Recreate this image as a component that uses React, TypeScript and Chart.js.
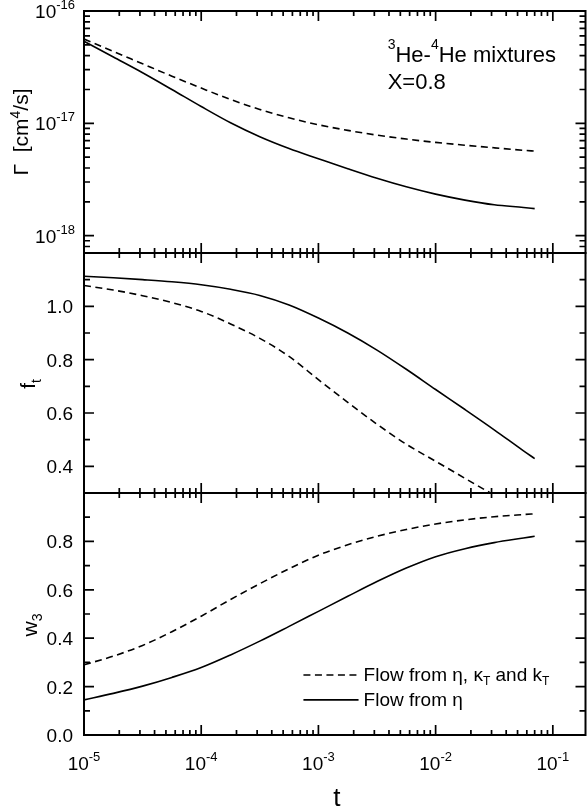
import React, { useEffect, useRef } from "react";
import { Chart, registerables } from "chart.js";

Chart.register(...registerables);

const FONT = '"Liberation Sans", Arial, Helvetica, sans-serif';

// reduced temperature t (shared x values, quarter-decade steps)
const T_VALUES = [
  1e-5, 1.78e-5, 3.16e-5, 5.62e-5, 1e-4, 1.78e-4, 3.16e-4, 5.62e-4, 1e-3, 1.78e-3, 3.16e-3, 5.62e-3, 1e-2, 1.78e-2,
  3.16e-2, 5.62e-2, 7e-2,
];

// Gamma [cm^4/s]
const GAMMA_ALL = [
  5.62e-17, 4.37e-17, 3.39e-17, 2.63e-17, 2.06e-17, 1.63e-17, 1.33e-17, 1.12e-17, 9.7e-18, 8.65e-18, 7.85e-18, 7.24e-18,
  6.76e-18, 6.38e-18, 6.05e-18, 5.75e-18, 5.65e-18,
];
const GAMMA_ETA = [
  5.37e-17, 3.89e-17, 2.82e-17, 2.0e-17, 1.41e-17, 1.01e-17, 7.59e-18, 5.96e-18, 4.84e-18, 3.94e-18, 3.24e-18, 2.72e-18,
  2.34e-18, 2.07e-18, 1.88e-18, 1.78e-18, 1.74e-18,
];
// f_t
const FT_ALL = [1.078, 1.061, 1.04, 1.014, 0.981, 0.934, 0.88, 0.812, 0.725, 0.64, 0.558, 0.483, 0.419, 0.355, 0.292, 0.23, 0.206];
const FT_ETA = [1.113, 1.107, 1.1, 1.092, 1.081, 1.064, 1.041, 1.005, 0.956, 0.9, 0.836, 0.764, 0.688, 0.613, 0.537, 0.458, 0.429];
// w_3
const W3_ALL = [0.29, 0.326, 0.37, 0.427, 0.491, 0.56, 0.625, 0.687, 0.743, 0.786, 0.821, 0.849, 0.872, 0.889, 0.902, 0.911, 0.914];
const W3_ETA = [0.145, 0.172, 0.202, 0.238, 0.279, 0.331, 0.388, 0.449, 0.511, 0.573, 0.634, 0.69, 0.737, 0.77, 0.795, 0.814, 0.821];

const X_MIN = 1e-5;
const X_MAX = 0.19;
const X_TICK_EXPONENTS = [-5, -4, -3, -2, -1];

const GAMMA_MIN = 7e-19;
const GAMMA_MAX = 1e-16;
const GAMMA_TICK_EXPONENTS = [-16, -17, -18];

const FT_MIN = 0.3;
const FT_MAX = 1.2;
const FT_TICKS = [0.4, 0.6, 0.8, 1.0];
const FT_TICK_LABELS = ["0.4", "0.6", "0.8", "1.0"];
const FT_MINOR = [0.3, 0.5, 0.7, 0.9, 1.1];

const W3_MIN = 0;
const W3_MAX = 1.0;
const W3_TICKS = [0, 0.2, 0.4, 0.6, 0.8];
const W3_TICK_LABELS = ["0.0", "0.2", "0.4", "0.6", "0.8"];
const W3_MINOR = [0.1, 0.3, 0.5, 0.7, 0.9];

const SERIES_LABELS = ["Flow from η, κT and kT", "Flow from η"];

type Part = { t: string; size: number; dy?: number };

function drawParts(ctx: CanvasRenderingContext2D, parts: Part[], x: number, y: number, align: "left" | "right" | "center") {
  const ws = parts.map((p) => {
    ctx.font = `${p.size}px ${FONT}`;
    return ctx.measureText(p.t).width;
  });
  const total = ws.reduce((a, b) => a + b, 0);
  let cx = align === "left" ? x : align === "right" ? x - total : x - total / 2;
  ctx.textAlign = "left";
  ctx.textBaseline = "alphabetic";
  parts.forEach((p, i) => {
    ctx.font = `${p.size}px ${FONT}`;
    ctx.fillText(p.t, cx, y + (p.dy || 0));
    cx += ws[i];
  });
}

function drawRotated(ctx: CanvasRenderingContext2D, parts: Part[], bx: number, cy: number) {
  ctx.save();
  ctx.translate(bx, cy);
  ctx.rotate(-Math.PI / 2);
  drawParts(ctx, parts, 0, 0, "center");
  ctx.restore();
}

type PanelCfg = {
  name: string;
  top: number;
  height: number;
  padTop: number;
  padBottom: number;
  yType: "logarithmic" | "linear";
  yMin: number;
  yMax: number;
  all: number[];
  eta: number[];
  yMajor: number[];
  yMinor: number[];
  yLabels: { value: number; parts: Part[]; right: number }[];
  title: { parts: Part[]; bx: number; dy: number };
  extra?: (chart: any) => void;
};

const DASH = [7, 4.5];
const LINE_W = 1.6;

function gammaMinor(): number[] {
  const out: number[] = [];
  [-19, -18, -17].forEach((e) => {
    for (let k = 2; k <= 9; k++) {
      const v = k * Math.pow(10, e);
      if (v > GAMMA_MIN * 1.001 && v < GAMMA_MAX) out.push(v);
    }
  });
  return out;
}

const PANELS: PanelCfg[] = [
  {
    name: "gamma",
    top: 0,
    height: 266,
    padTop: 11,
    padBottom: 13,
    yType: "logarithmic",
    yMin: GAMMA_MIN,
    yMax: GAMMA_MAX,
    all: GAMMA_ALL,
    eta: GAMMA_ETA,
    yMajor: GAMMA_TICK_EXPONENTS.map((e) => Math.pow(10, e)),
    yMinor: gammaMinor(),
    yLabels: GAMMA_TICK_EXPONENTS.map((e) => ({
      value: Math.pow(10, e),
      parts: [
        { t: "10", size: 19 },
        { t: String(e), size: 13, dy: -9 },
      ],
      right: 9,
    })),
    title: {
      parts: [
        { t: "Γ  [cm", size: 21 },
        { t: "4", size: 14, dy: -8 },
        { t: "/s]", size: 21 },
      ],
      bx: 28,
      dy: 121,
    },
    extra: (chart) => {
      const { ctx, scales } = chart;
      const x0 = scales.x.getPixelForValue(3.9e-3);
      drawParts(
        ctx,
        [
          { t: "3", size: 14, dy: -13 },
          { t: "He-", size: 22 },
          { t: "4", size: 14, dy: -13 },
          { t: "He mixtures", size: 22 },
        ],
        x0,
        scales.y.getPixelForValue(3.5e-17),
        "left"
      );
      drawParts(ctx, [{ t: "X=0.8", size: 22 }], x0, scales.y.getPixelForValue(2.0e-17), "left");
    },
  },
  {
    name: "ft",
    top: 240,
    height: 266,
    padTop: 13,
    padBottom: 13,
    yType: "linear",
    yMin: FT_MIN,
    yMax: FT_MAX,
    all: FT_ALL,
    eta: FT_ETA,
    yMajor: FT_TICKS,
    yMinor: FT_MINOR,
    yLabels: FT_TICKS.map((v, i) => ({ value: v, parts: [{ t: FT_TICK_LABELS[i], size: 19 }], right: 11 })),
    title: {
      parts: [
        { t: "f", size: 21 },
        { t: "t", size: 14, dy: 6 },
      ],
      bx: 35,
      dy: 131,
    },
  },
  {
    name: "w3",
    top: 480,
    height: 332,
    padTop: 13,
    padBottom: 77,
    yType: "linear",
    yMin: W3_MIN,
    yMax: W3_MAX,
    all: W3_ALL,
    eta: W3_ETA,
    yMajor: W3_TICKS,
    yMinor: W3_MINOR,
    yLabels: W3_TICKS.map((v, i) => ({ value: v, parts: [{ t: W3_TICK_LABELS[i], size: 19 }], right: 11 })),
    title: {
      parts: [
        { t: "w", size: 21 },
        { t: "3", size: 14, dy: 5 },
      ],
      bx: 37,
      dy: 132,
    },
    extra: (chart) => {
      const { ctx, chartArea: a, scales } = chart;
      const { x, y } = scales;
      // x tick labels
      X_TICK_EXPONENTS.forEach((e) => {
        drawParts(
          ctx,
          [
            { t: "10", size: 19 },
            { t: String(e), size: 13, dy: -9 },
          ],
          x.getPixelForValue(Math.pow(10, e)),
          a.bottom + 35,
          "center"
        );
      });
      // x title
      drawParts(ctx, [{ t: "t", size: 26 }], (a.left + a.right) / 2 + 2, a.bottom + 71, "center");
      // legend
      const lx0 = x.getPixelForValue(7.45e-4);
      const lx1 = x.getPixelForValue(2.2e-3);
      const tx = x.getPixelForValue(2.43e-3);
      const rows = [0.248, 0.145];
      const texts: Part[][] = [
        [
          { t: "Flow from η, κ", size: 19 },
          { t: "T", size: 12, dy: 4 },
          { t: " and k", size: 19 },
          { t: "T", size: 12, dy: 4 },
        ],
        [{ t: SERIES_LABELS[1], size: 19 }],
      ];
      rows.forEach((rv, i) => {
        const py = y.getPixelForValue(rv);
        ctx.save();
        ctx.lineWidth = LINE_W;
        ctx.setLineDash(i === 0 ? DASH : []);
        ctx.beginPath();
        ctx.moveTo(lx0, py);
        ctx.lineTo(lx1, py);
        ctx.stroke();
        ctx.restore();
        drawParts(ctx, texts[i], tx, py + 6, "left");
      });
    },
  },
];

function framePlugin(cfg: PanelCfg) {
  return {
    id: "frame_" + cfg.name,
    afterDatasetsDraw(chart: any) {
      const { ctx, chartArea: a, scales } = chart;
      const { x, y } = scales;
      ctx.save();
      ctx.strokeStyle = "#000";
      ctx.fillStyle = "#000";
      ctx.setLineDash([]);
      ctx.lineWidth = 1.7;
      ctx.beginPath();
      X_TICK_EXPONENTS.forEach((e) => {
        for (let k = 1; k <= 9; k++) {
          const v = k * Math.pow(10, e);
          if (v < X_MIN * 0.999 || v > X_MAX) continue;
          const px = x.getPixelForValue(v);
          const len = k === 1 ? 10 : 5;
          ctx.moveTo(px, a.top);
          ctx.lineTo(px, a.top + len);
          ctx.moveTo(px, a.bottom);
          ctx.lineTo(px, a.bottom - len);
        }
      });
      const yTick = (v: number, len: number) => {
        const py = y.getPixelForValue(v);
        ctx.moveTo(a.left, py);
        ctx.lineTo(a.left + len, py);
        ctx.moveTo(a.right, py);
        ctx.lineTo(a.right - len, py);
      };
      cfg.yMajor.forEach((v) => yTick(v, 10));
      cfg.yMinor.forEach((v) => yTick(v, 6));
      ctx.stroke();

      ctx.lineWidth = 2;
      ctx.strokeRect(a.left, a.top, a.right - a.left, a.bottom - a.top);

      cfg.yLabels.forEach((l) => {
        drawParts(ctx, l.parts, a.left - l.right, y.getPixelForValue(l.value) + 7, "right");
      });
      drawRotated(ctx, cfg.title.parts, cfg.title.bx, a.top + cfg.title.dy);
      if (cfg.extra) cfg.extra(chart);
      ctx.restore();
    },
  };
}

function makeChart(canvas: HTMLCanvasElement, cfg: PanelCfg) {
  const toPts = (arr: number[]) => T_VALUES.map((t, i) => ({ x: t, y: arr[i] }));
  return new Chart(canvas, {
    type: "line",
    data: {
      datasets: [
        {
          label: SERIES_LABELS[0],
          data: toPts(cfg.all),
          borderColor: "#000",
          borderWidth: LINE_W,
          borderDash: DASH,
          pointRadius: 0,
          cubicInterpolationMode: "monotone",
          fill: false,
        },
        {
          label: SERIES_LABELS[1],
          data: toPts(cfg.eta),
          borderColor: "#000",
          borderWidth: LINE_W,
          pointRadius: 0,
          cubicInterpolationMode: "monotone",
          fill: false,
        },
      ],
    },
    options: {
      responsive: false,
      animation: false,
      devicePixelRatio: 1,
      events: [],
      layout: { padding: { left: 84, right: 1.5, top: cfg.padTop, bottom: cfg.padBottom } },
      scales: {
        x: { type: "logarithmic", min: X_MIN, max: X_MAX, display: false },
        y: { type: cfg.yType, min: cfg.yMin, max: cfg.yMax, display: false },
      },
      plugins: { legend: { display: false }, tooltip: { enabled: false } },
    } as any,
    plugins: [framePlugin(cfg)],
  });
}

export default function App() {
  const r0 = useRef<HTMLCanvasElement>(null);
  const r1 = useRef<HTMLCanvasElement>(null);
  const r2 = useRef<HTMLCanvasElement>(null);
  const refs = [r0, r1, r2];

  useEffect(() => {
    document.body.style.margin = "0";
    const charts = PANELS.map((p, i) => makeChart(refs[i].current as HTMLCanvasElement, p));
    return () => charts.forEach((c) => c.destroy());
  }, []);

  return (
    <div style={{ position: "absolute", left: 0, top: 0, width: 587, height: 812, background: "#fff" }}>
      {PANELS.map((p, i) => (
        <canvas
          key={p.name}
          ref={refs[i]}
          width={587}
          height={p.height}
          style={{ position: "absolute", left: 0, top: p.top, width: 587, height: p.height }}
        />
      ))}
    </div>
  );
}
